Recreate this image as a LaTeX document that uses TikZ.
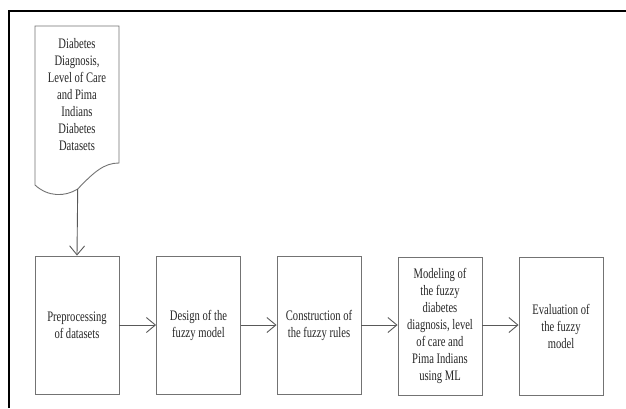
\documentclass[tikz,border=0pt]{standalone}
\usepackage{fontspec}
\setmainfont{Liberation Serif}[FakeStretch=0.73]
\usetikzlibrary{arrows.meta}
\begin{document}
\begin{tikzpicture}[x=1pt,y=-1pt,
  stepbox/.style={draw=black!55, line width=0.9pt, minimum width=84pt, minimum height=138pt, inner sep=0pt},
  lbl/.style={align=center, font=\fontsize{14.5}{17}\selectfont, text=black!85},
  conn/.style={draw=black!65, line width=0.9pt, -{Straight Barb[length=9pt,width=15pt,line width=0.9pt]}}]
\useasboundingbox (0,0) rectangle (626,408);
\fill[white] (0,0) rectangle (626,408);
% frame (top and left only)
\draw[line width=2pt, black] (8.5,408) -- (8.5,10.5) -- (626,10.5);
% document shape
\draw[black!55, line width=0.9pt] (35,185) -- (35,26) -- (119,26) -- (119,163)
  .. controls (104,163) and (94,172) .. (77.7,189)
  .. controls (65,197) and (48,197) .. (35,185) -- cycle;
\node[lbl] (doc) at (77,95) {Diabetes\\Diagnosis,\\Level of Care\\and Pima\\Indians\\Diabetes\\Datasets};
\coordinate (docbot) at (77.7,189);
% boxes
\node[stepbox, lbl] (b1) at (77,325) {Preprocessing\\of datasets};
\node[stepbox, lbl] (b2) at (198.5,325) {Design of the\\fuzzy model};
\node[stepbox, lbl] (b3) at (319,325) {Construction of\\the fuzzy rules};
\node[stepbox, lbl] (b4) at (440,326) {Modeling of\\the fuzzy\\diabetes\\diagnosis, level\\of care and\\Pima Indians\\using ML};
\node[stepbox, lbl] (b5) at (561,326) {Evaluation of\\the fuzzy\\model};
% connectors
\draw[conn] (docbot) -- (b1.north);
\draw[conn] (b1.east) -- (b2.west);
\draw[conn] (b2.east) -- (b3.west);
\draw[conn] (b3.east) -- (b4.west |- b3.east);
\draw[conn] (b4.east |- b3.east) -- (b5.west |- b3.east);
\end{tikzpicture}
\end{document}
